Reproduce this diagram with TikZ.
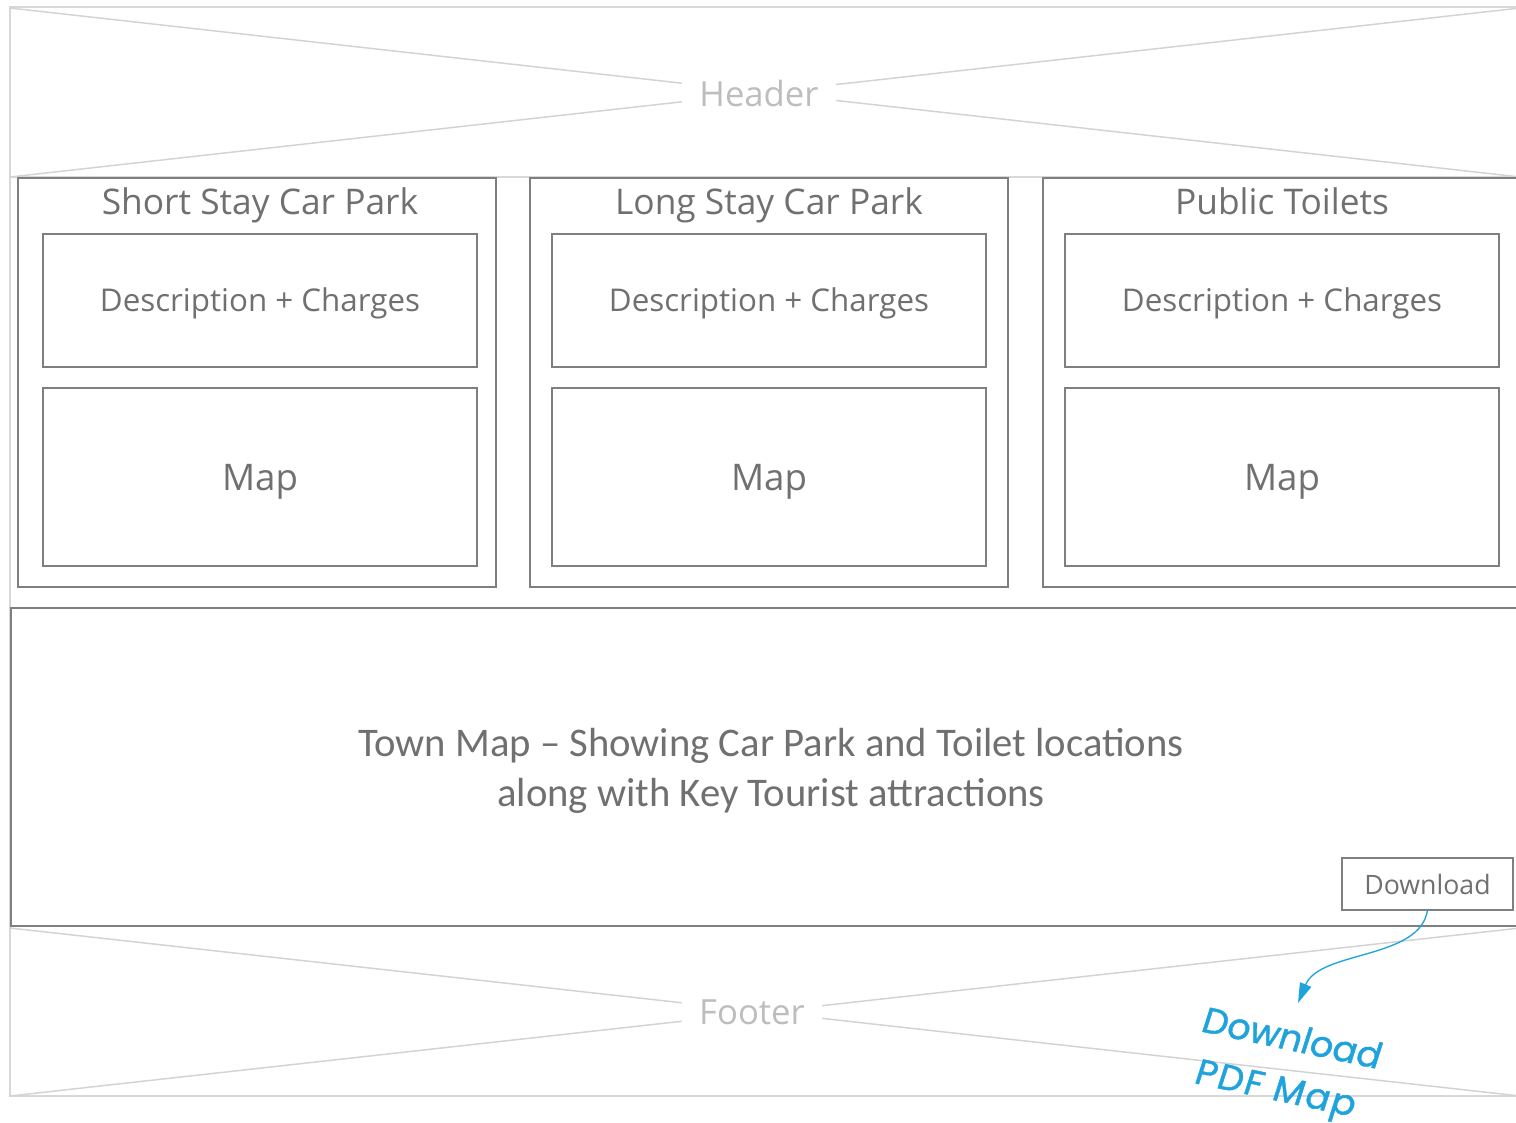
\documentclass[tikz,border=0pt]{standalone}
\usepackage{fontspec}
\setmainfont{Open Sans}
\newfontfamily\calfont{Carlito}
\newfontfamily\handfont[FakeSlant=0.1,FakeBold=1.2]{Poppins}
\usetikzlibrary{arrows.meta}
\definecolor{boxgray}{HTML}{7F7F7F}
\definecolor{txtgray}{HTML}{707070}
\definecolor{framegray}{HTML}{D8D8D8}
\definecolor{diaggray}{HTML}{D3D3D3}
\definecolor{labelgray}{HTML}{BDBDBD}
\definecolor{annblue}{HTML}{1FA3DD}
\tikzset{
  wirebox/.style={draw=boxgray, line width=1.6pt, inner sep=0pt, outer sep=0pt, fill=white},
  outerbox/.style={wirebox, minimum width=358.5pt, minimum height=306.75pt},
  descbox/.style={wirebox, minimum width=325.5pt, minimum height=99.75pt, text=txtgray,
    font=\fontsize{23.5}{27}\selectfont, text height=16.8pt, text depth=0pt},
  mapbox/.style={wirebox, minimum width=325.5pt, minimum height=133.5pt, text=txtgray,
    font=\fontsize{27.5}{31}\selectfont, text height=19.6pt, text depth=0pt},
  titletext/.style={text=txtgray, font=\fontsize{26.5}{30}\selectfont, inner sep=0pt, anchor=base},
  framelabel/.style={text=labelgray, fill=white, font=\fontsize{26}{30}\selectfont, inner xsep=13pt, inner ysep=4pt},
  frameline/.style={draw=framegray, line width=1.5pt},
  diagline/.style={draw=diaggray, line width=1.1pt},
}
\begin{document}
\begin{tikzpicture}[x=0.75pt,y=-0.75pt]
\clip (0,0) rectangle (1516,1122);
\fill[white] (0,0) rectangle (1516,1122);
% outer light frame
\draw[frameline] (10,7) rectangle (1520,1096);
\draw[frameline] (10,177) -- (1520,177);
% header diagonals
\coordinate (htl) at (10,8);
\coordinate (hbr) at (1520,177);
\coordinate (hbl) at (10,177);
\coordinate (htr) at (1520,8);
\draw[diagline] (htl) -- (hbr);
\draw[diagline] (hbl) -- (htr);
\node[framelabel] (header) at (759,93) {Header};
% footer diagonals
\coordinate (ftl) at (10,928);
\coordinate (fbr) at (1520,1096);
\coordinate (fbl) at (10,1096);
\coordinate (ftr) at (1520,928);
\draw[diagline] (ftl) -- (fbr);
\draw[diagline] (fbl) -- (ftr);
\node[framelabel] (footer) at (752,1012) {Footer};
% three columns
\node[outerbox] (ss) at (257,382.5) {};
\node[titletext] (sstitle) at (260,214) {Short Stay Car Park};
\node[descbox] (ssdesc) at (260,300.5) {Description + Charges};
\node[mapbox] (ssmap) at (260,477) {Map};

\node[outerbox] (ls) at (769,382.5) {};
\node[titletext] (lstitle) at (769,214) {Long Stay Car Park};
\node[descbox] (lsdesc) at (769,300.5) {Description + Charges};
\node[mapbox] (lsmap) at (769,477) {Map};

\node[outerbox] (pt) at (1282,382.5) {};
\node[titletext] (pttitle) at (1282,214) {Public Toilets};
\node[descbox] (ptdesc) at (1282,300.5) {Description + Charges};
\node[mapbox] (ptmap) at (1282,477) {Map};
% town map
\node[wirebox, minimum width=1139.25pt, minimum height=238.5pt] (town) at (770.5,767) {};
\node[text=txtgray, font=\calfont\fontsize{30.5}{37.5}\selectfont, align=center, inner sep=0pt] (towntext) at (771,771)
  {Town Map – Showing Car Park and Toilet locations\\along with Key Tourist attractions};
\node[wirebox, minimum width=128.25pt, minimum height=39pt, text=txtgray, font=\fontsize{20}{24}\selectfont] (dl) at (1427.5,884) {Download};
% annotation
\coordinate (tip) at (1298,1003);
\draw[annblue, line width=1pt, -{Triangle[length=15pt,width=9pt]}] (dl.south) .. controls (1420,960) and (1320,950) .. (tip);
\node[text=annblue, font=\handfont\fontsize{27}{39}\selectfont, align=left, rotate=-12, inner sep=0pt] (ann) at (1285,1067) {Download\\\hspace{3pt}{\addfontfeature{LetterSpace=5}PDF Map}};
\end{tikzpicture}
\end{document}
